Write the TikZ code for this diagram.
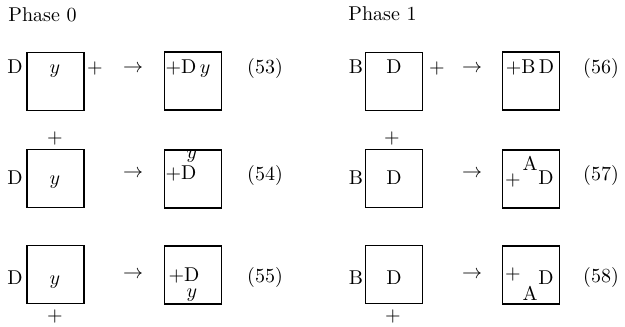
\documentclass[tikz,border=0pt]{standalone}
\usetikzlibrary{positioning}
\begin{document}
\begin{tikzpicture}[x=0.5pt,y=-0.5pt,
  cell/.style={rectangle,draw,line width=0.8pt,
               minimum width=28.5pt,minimum height=29pt,inner sep=0pt},
  lab/.style={inner sep=0pt,anchor=base},
  ttl/.style={inner sep=0pt,anchor=base west}
]
\useasboundingbox (0,0) rectangle (625,326);
% phase 0
\node[ttl] (ph0) at (8,22) {Phase 0};
\node[cell] (a53) at (55.5,81.5) {};
\node[lab] (a53l) at (15,74) {D};
\node[lab] (a53c) at (55,74) {$y$};
\node[lab] (a53r) at (95,74) {$+$};
\node[lab] (t53) at (133,73) {$\rightarrow$};
\node[cell] (b53) at (193,81) {};
\node[lab] (b53c) at (188,74) {$+$D\,$y$};
\node[lab] (n53) at (265,74) {(53)};

\node[cell] (a54) at (55.5,178.5) {};
\node[lab] (a54l) at (15,184) {D};
\node[lab] (a54c) at (55,184) {$y$};
\node[lab] (a54t) at (55,143) {$+$};
\node[lab] (t54) at (133,177) {$\rightarrow$};
\node[cell] (b54) at (193,179) {};
\node[lab] (b54c) at (181,179) {$+$D};
\node[lab] (b54t) at (192,158) {$y$};
\node[lab] (n54) at (265,180) {(54)};

\node[cell] (a55) at (55.5,274.5) {};
\node[lab] (a55l) at (15,284) {D};
\node[lab] (a55c) at (55,284) {$y$};
\node[lab] (a55b) at (55,321) {$+$};
\node[lab] (t55) at (133,278) {$\rightarrow$};
\node[cell] (b55) at (193,275) {};
\node[lab] (b55c) at (184,281) {$+$D};
\node[lab] (b55b) at (192,297) {$y$};
\node[lab] (n55) at (265,282) {(55)};
% phase 1
\node[ttl] (ph1) at (348,21) {Phase 1};
\node[cell] (a56) at (394,81.5) {};
\node[lab] (a56l) at (356,74) {B};
\node[lab] (a56c) at (394,74) {D};
\node[lab] (a56r) at (437,74) {$+$};
\node[lab] (t56) at (472,73) {$\rightarrow$};
\node[cell] (b56) at (531,81) {};
\node[lab] (b56c) at (530,74) {$+$B\,D};
\node[lab] (n56) at (601,74) {(56)};

\node[cell] (a57) at (394,178.5) {};
\node[lab] (a57l) at (356,184) {B};
\node[lab] (a57c) at (394,184) {D};
\node[lab] (a57t) at (392,143) {$+$};
\node[lab] (t57) at (472,177) {$\rightarrow$};
\node[cell] (b57) at (531,179) {};
\node[lab] (b57p) at (513,185) {$+$};
\node[lab] (b57a) at (530,170) {A};
\node[lab] (b57d) at (546,184) {D};
\node[lab] (n57) at (601,180) {(57)};

\node[cell] (a58) at (394,274.5) {};
\node[lab] (a58l) at (356,284) {B};
\node[lab] (a58c) at (394,284) {D};
\node[lab] (a58b) at (393,321) {$+$};
\node[lab] (t58) at (472,278) {$\rightarrow$};
\node[cell] (b58) at (531,275) {};
\node[lab] (b58p) at (513,279) {$+$};
\node[lab] (b58d) at (546,284) {D};
\node[lab] (b58a) at (530,300) {A};
\node[lab] (n58) at (601,282) {(58)};
\end{tikzpicture}
\end{document}
